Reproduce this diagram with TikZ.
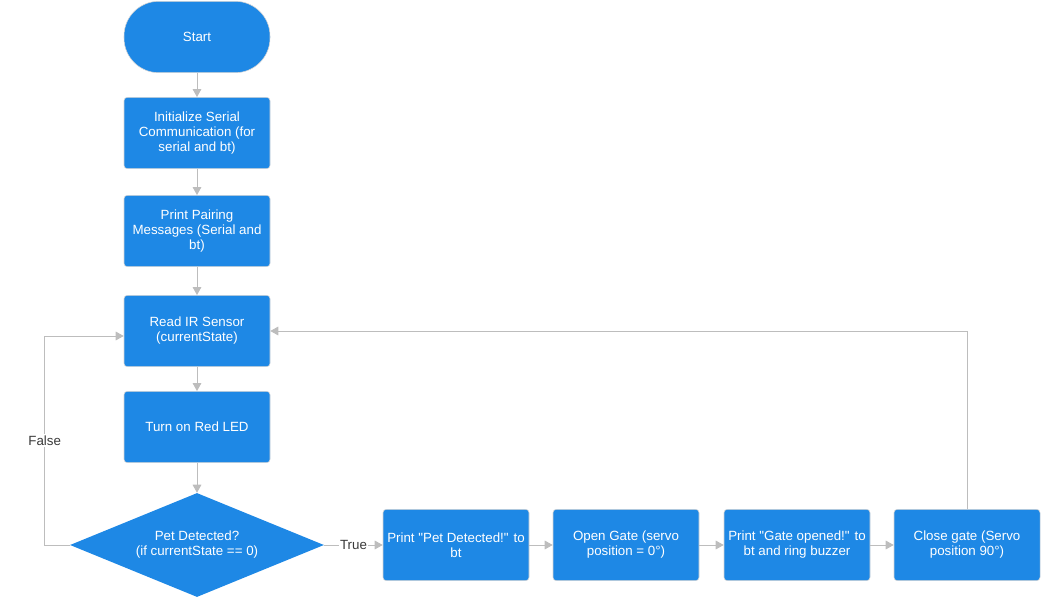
\documentclass[tikz,border=0pt]{standalone}
\usepackage{fontspec}
\setmainfont{Liberation Sans}
\usetikzlibrary{positioning,arrows.meta,shapes.geometric}
\definecolor{stepblue}{HTML}{1E88E5}
\definecolor{stepedge}{HTML}{D4D4D4}
\definecolor{linkgray}{HTML}{BDBDBD}
\definecolor{labelink}{HTML}{3A3A3A}
\newcommand{\dq}{\textquotedbl}

\begin{document}
\begin{tikzpicture}[x=0.75pt,y=-0.75pt,>={Triangle[length=6pt,width=6.5pt]},
  proc/.style={rectangle,draw=stepedge,fill=stepblue,rounded corners=2.5pt,minimum width=109.5pt,minimum height=53.5pt,inner sep=0pt,align=center,text=white,font=\fontsize{10}{11.25}\selectfont},
  term/.style={proc,rounded corners=26pt},
  decide/.style={diamond,aspect=2.44,draw=none,fill=stepblue,minimum width=190.5pt,minimum height=78pt,inner sep=-4pt,align=center,text=white,font=\fontsize{10}{11.25}\selectfont},
  link/.style={->,draw=linkgray,line width=0.75pt},
  lab/.style={fill=white,text=labelink,inner sep=1pt,font=\fontsize{10}{11.25}\selectfont}]
  \useasboundingbox (0,0) rectangle (1048,602);
  % main column
  \node[term] (start) at (197,37) {Start};
  \node[proc] (init) at (197,133) {Initialize Serial\\Communication (for\\serial and bt)};
  \node[proc] (pair) at (197,231) {Print Pairing\\Messages (Serial and\\bt)};
  \node[proc] (read) at (197,331) {Read IR Sensor\\(currentState)};
  \node[proc] (led) at (197,427) {Turn on Red LED};
  \node[decide] (pet) at (197,545) {Pet Detected?\\(if currentState == 0)};
  % true branch
  \node[proc] (msg) at (456,545) {Print \dq Pet Detected!\dq{} to\\bt};
  \node[proc] (open) at (626,545) {Open Gate (servo\\position = 0°)};
  \node[proc] (buzz) at (797,545) {Print \dq Gate opened!\dq{} to\\bt and ring buzzer};
  \node[proc] (close) at (967,545) {Close gate (Servo\\position 90°)};
  % connectors
  \draw[link] (start) -- (init);
  \draw[link] (init) -- (pair);
  \draw[link] (pair) -- (read);
  \draw[link] (read) -- (led);
  \draw[link] (led) -- (pet);
  \draw[link] (pet.east) -- node[lab] {True} (msg.west);
  \draw[link] (msg) -- (open);
  \draw[link] (open) -- (buzz);
  \draw[link] (buzz) -- (close);
  % loops back to the sensor
  \draw[link] (pet.west) -- ++(-25,0) |- node[lab,pos=0.25] {False} ([yshift=-3.75pt]read.west);
  \draw[link] (close.north) |- (read.east);
\end{tikzpicture}
\end{document}
